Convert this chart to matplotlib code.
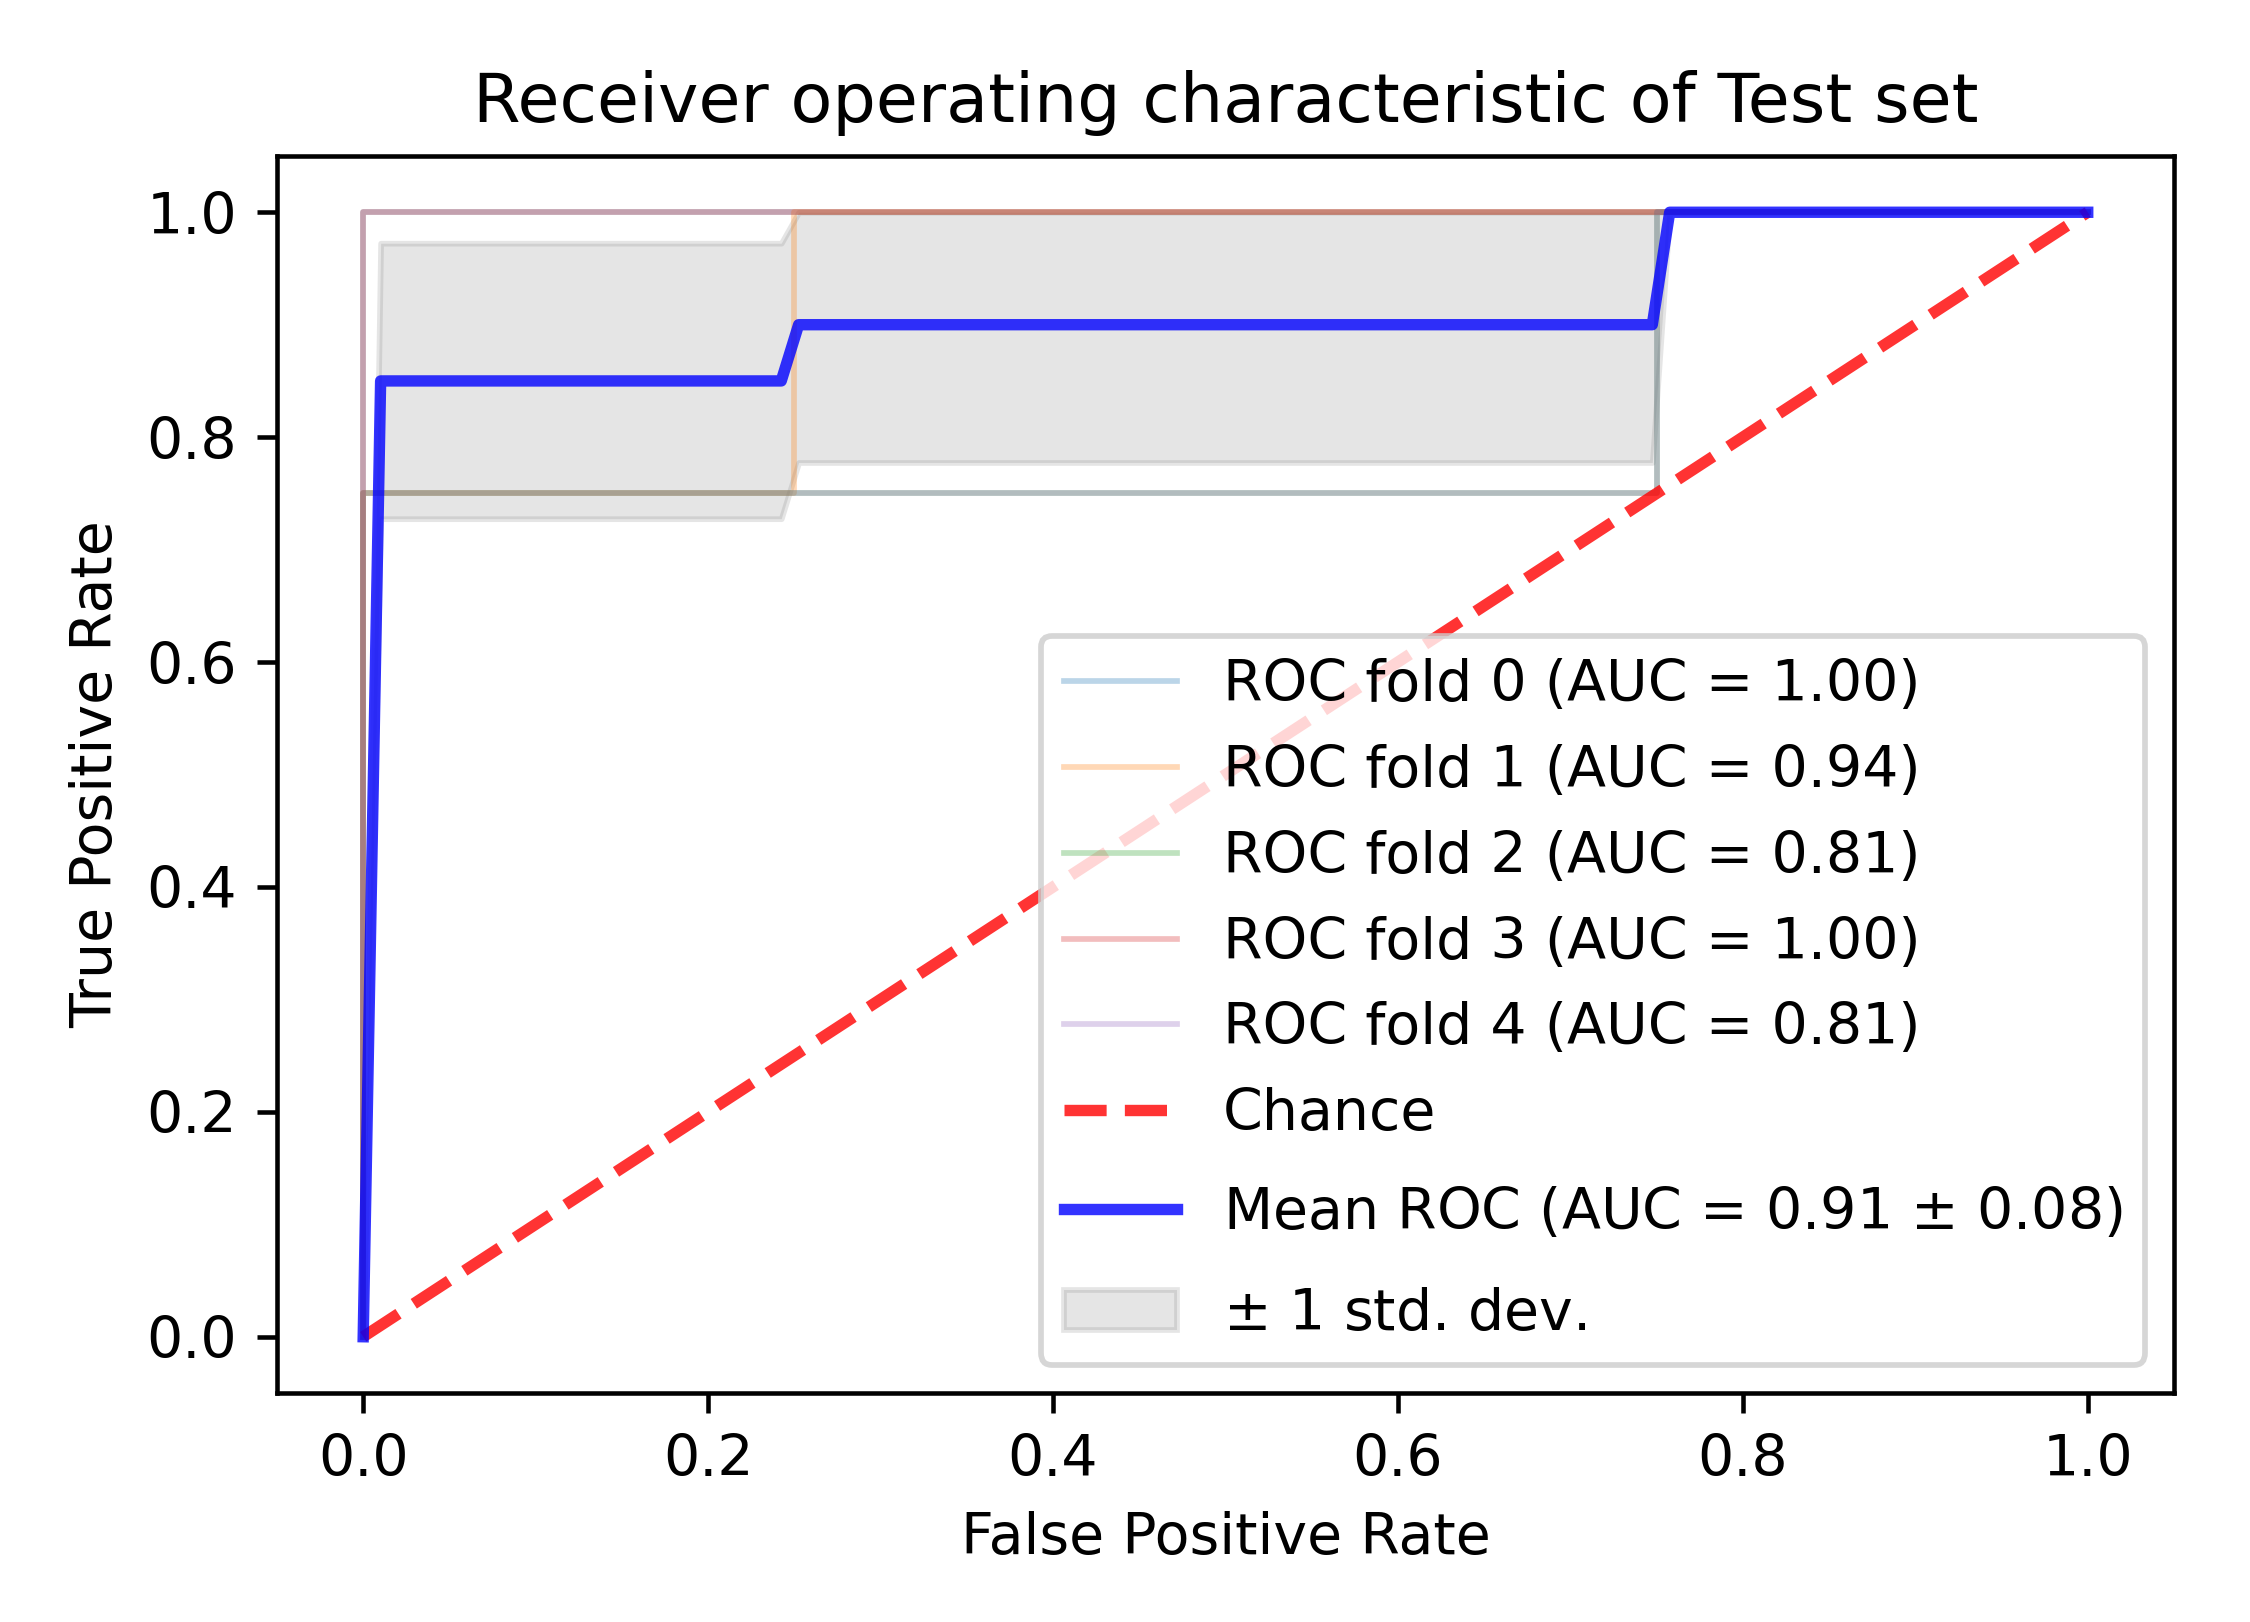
import matplotlib
matplotlib.use("Agg")
import matplotlib.pyplot as plt
from matplotlib.offsetbox import DrawingArea

# ROC curves of the five folds
fold_fpr = [
    [0.0, 0.0, 1.0],
    [0.0, 0.0, 0.25, 0.25, 1.0],
    [0.0, 0.0, 0.75, 0.75, 1.0],
    [0.0, 0.0, 1.0],
    [0.0, 0.0, 0.75, 0.75, 1.0],
]
fold_tpr = [
    [0.0, 1.0, 1.0],
    [0.0, 0.75, 0.75, 1.0, 1.0],
    [0.0, 0.75, 0.75, 1.0, 1.0],
    [0.0, 1.0, 1.0],
    [0.0, 0.75, 0.75, 1.0, 1.0],
]
fold_auc = [1.00, 0.94, 0.81, 1.00, 0.81]

# mean ROC and the +/- 1 std band
mean_fpr = [0.0, 0.0101, 0.2424, 0.2525, 0.7475, 0.7576, 1.0]
mean_tpr = [0.0, 0.85, 0.85, 0.90, 0.90, 1.0, 1.0]
tpr_lower = [0.0, 0.7275, 0.7275, 0.7775, 0.7775, 1.0, 1.0]
tpr_upper = [0.0, 0.9725, 0.9725, 1.0, 1.0, 1.0, 1.0]
mean_auc = 0.91
std_auc = 0.08

fig = plt.figure(figsize=(2250 / 410, 1622 / 410), dpi=410)
ax = fig.add_axes([0.1231, 0.1412, 0.9662 - 0.1231, 0.9038 - 0.1412])

for i in range(len(fold_fpr)):
    ax.plot(fold_fpr[i], fold_tpr[i], lw=1, alpha=0.3,
            label="ROC fold %d (AUC = %0.2f)" % (i, fold_auc[i]))

ax.plot([0, 1], [0, 1], linestyle="--", lw=2, color="r", label="Chance", alpha=0.8)

ax.plot(mean_fpr, mean_tpr, color="b",
        label=r"Mean ROC (AUC = %0.2f $\pm$ %0.2f)" % (mean_auc, std_auc),
        lw=2, alpha=0.8)

ax.fill_between(mean_fpr, tpr_lower, tpr_upper, color="grey", alpha=0.2,
                label=r"$\pm$ 1 std. dev.")

ax.set(xlim=[-0.05, 1.05], ylim=[-0.05, 1.05],
       title="Receiver operating characteristic of Test set")
ax.set_xlabel("False Positive Rate")
ax.set_ylabel("True Positive Rate")
leg = ax.legend(loc="lower right", labelspacing=0.54)

# the rows with the math "±" sit a little taller in the original legend:
# pad them with an empty box (negative width cancels the extra text pad)
rows = leg._legend_handle_box.get_children()[0].get_children()
pad = -leg.handletextpad * leg._fontsize
rows[-2].get_children().append(DrawingArea(pad, 13.2, 0, 3.3))
rows[-1].get_children().append(DrawingArea(pad, 11.05, 0, 2.1))

fig.savefig("out.png", dpi=410)
